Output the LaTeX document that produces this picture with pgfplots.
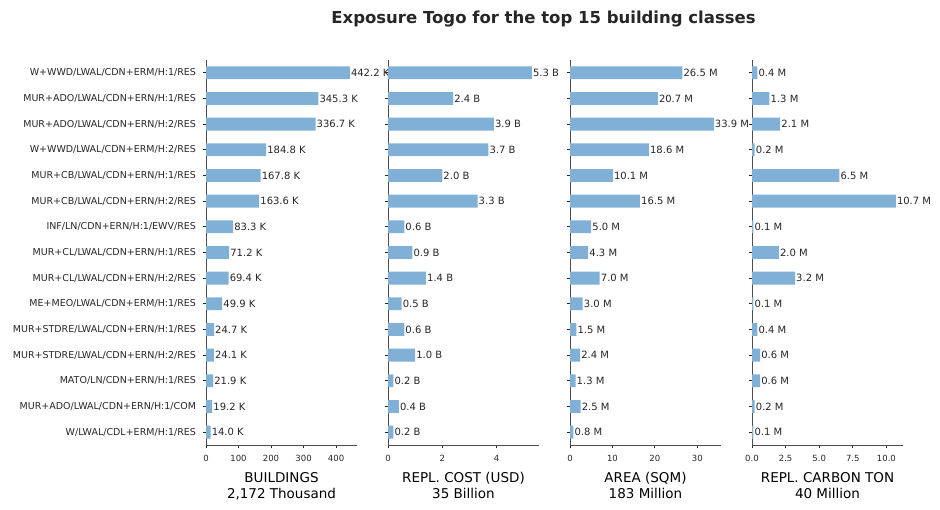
\documentclass[border=0pt]{standalone}
\usepackage{pgfplots}
\pgfplotsset{compat=1.18}
\usepackage{pgfplotstable}
\usepackage{fontspec}
\setmainfont{DejaVu Sans}
\definecolor{barc}{HTML}{80B0D5}
\definecolor{txt}{HTML}{262626}
\definecolor{spine}{HTML}{4D4D4D}

% y: 14 = top row
\pgfplotstableread{
y bld cost area carbon
14 442.2 5.3 26.5 0.4
13 345.3 2.4 20.7 1.3
12 336.7 3.9 33.9 2.1
11 184.8 3.7 18.6 0.2
10 167.8 2.0 10.1 6.5
9 163.6 3.3 16.5 10.7
8 83.3 0.6 5.0 0.1
7 71.2 0.9 4.3 2.0
6 69.4 1.4 7.0 3.2
5 49.9 0.5 3.0 0.1
4 24.7 0.6 1.5 0.4
3 24.1 1.0 2.4 0.6
2 21.9 0.2 1.3 0.6
1 19.2 0.4 2.5 0.2
0 14.0 0.2 0.8 0.1
}\datatab

\pgfplotsset{
  /pgf/number format/assume math mode=true,
  panel/.style={
    scale only axis, width=151pt, height=385pt, anchor=south west,
    xbar, bar width=0.5, ymin=-0.5, ymax=14.5, xmin=0,
    ytick={0,...,14}, clip=false,
    axis x line*=bottom, axis y line*=left,
    axis line style={-, draw=spine, line width=0.8pt},
    tick align=outside, major tick length=3.5pt,
    tick style={draw=txt, line width=0.8pt},
    every x tick label/.style={font=\fontsize{8.5}{10}\selectfont, text=txt, yshift=-3pt},
    every y tick label/.style={font=\fontsize{9.5}{11}\selectfont, text=txt, xshift=-3pt},
    xlabel style={align=center, font=\fontsize{13.5}{16}\selectfont, text=black, yshift=-4pt},
    nodes near coords style={font=\fontsize{10}{11}\selectfont, text=txt, anchor=west, inner sep=1pt},
    point meta=x,
    minor tick num=0,
  },
}

\begin{document}
\begin{tikzpicture}
\useasboundingbox (0,0) rectangle (940pt,510pt);
\node[font=\bfseries\fontsize{16.5}{19}\selectfont, text=txt] at (543.5pt,491pt) {Exposure Togo for the top 15 building classes};

\begin{axis}[panel, at={(206pt,65pt)}, xmax=464.3,
  xtick={0,100,200,300,400},
  yticklabels={W/LWAL/CDL+ERM/H:1/RES, MUR+ADO/LWAL/CDN+ERN/H:1/COM, MATO/LN/CDN+ERN/H:1/RES, MUR+STDRE/LWAL/CDN+ERN/H:2/RES, MUR+STDRE/LWAL/CDN+ERN/H:1/RES, ME+MEO/LWAL/CDN+ERM/H:1/RES, MUR+CL/LWAL/CDN+ERN/H:2/RES, MUR+CL/LWAL/CDN+ERN/H:1/RES, INF/LN/CDN+ERN/H:1/EWV/RES, MUR+CB/LWAL/CDN+ERN/H:2/RES, MUR+CB/LWAL/CDN+ERN/H:1/RES, W+WWD/LWAL/CDN+ERM/H:2/RES, MUR+ADO/LWAL/CDN+ERN/H:2/RES, MUR+ADO/LWAL/CDN+ERN/H:1/RES, W+WWD/LWAL/CDN+ERM/H:1/RES},
  xlabel={BUILDINGS\\2,172 Thousand},
  nodes near coords={\pgfmathprintnumber[fixed,fixed zerofill,precision=1]{\pgfplotspointmeta}~K},
]
\addplot[fill=barc, draw=none] table[x=bld, y=y] {\datatab};
\end{axis}

\begin{axis}[panel, at={(388pt,65pt)}, xmax=5.565,
  xtick={0,2,4}, yticklabels={},
  xlabel={REPL. COST (USD)\\35 Billion},
  nodes near coords={\pgfmathprintnumber[fixed,fixed zerofill,precision=1]{\pgfplotspointmeta}~B},
]
\addplot[fill=barc, draw=none] table[x=cost, y=y] {\datatab};
\end{axis}

\begin{axis}[panel, at={(570pt,65pt)}, xmax=35.6,
  xtick={0,10,20,30}, yticklabels={},
  xlabel={AREA (SQM)\\183 Million},
  nodes near coords={\pgfmathprintnumber[fixed,fixed zerofill,precision=1]{\pgfplotspointmeta}~M},
]
\addplot[fill=barc, draw=none] table[x=area, y=y] {\datatab};
\end{axis}

\begin{axis}[panel, at={(752pt,65pt)}, xmax=11.235,
  xtick={0,2.5,5,7.5,10}, yticklabels={},
  xticklabel={\pgfmathprintnumber[fixed,fixed zerofill,precision=1]{\tick}},
  xlabel={REPL. CARBON TON\\40 Million},
  nodes near coords={\pgfmathprintnumber[fixed,fixed zerofill,precision=1]{\pgfplotspointmeta}~M},
]
\addplot[fill=barc, draw=none] table[x=carbon, y=y] {\datatab};
\end{axis}
\end{tikzpicture}
\end{document}
